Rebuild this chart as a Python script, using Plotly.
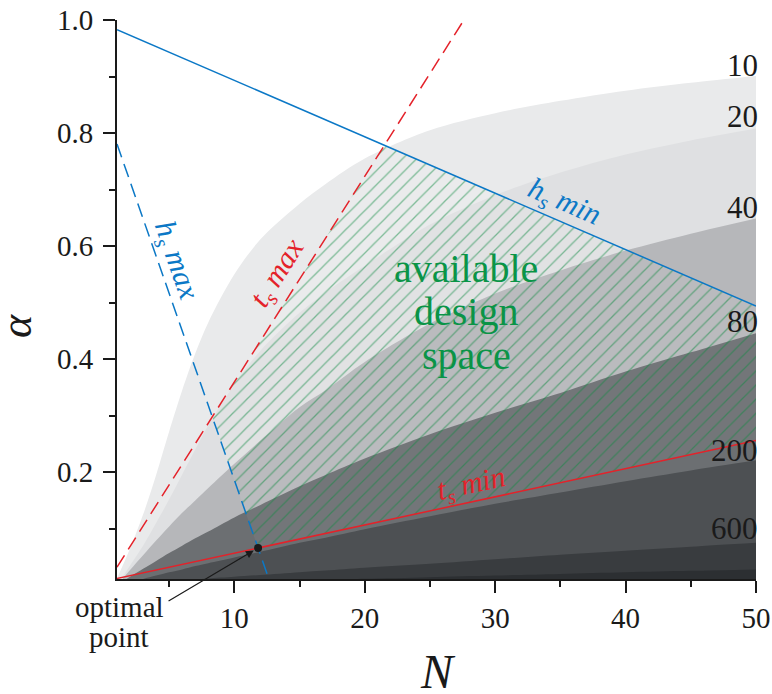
import plotly.graph_objects as go

# ---------------- data ----------------
N_grid = [1, 2, 3, 4, 5, 6, 7, 8, 10, 12, 15, 17, 20, 25, 30, 35, 40, 45, 50]
curve_10 = [0.012, 0.065, 0.125, 0.195, 0.272, 0.345, 0.41, 0.465, 0.55, 0.612, 0.675, 0.71, 0.755, 0.805, 0.835, 0.857, 0.875, 0.889, 0.901]
curve_20 = [0.0, 0.035, 0.07, 0.11, 0.152, 0.196, 0.24, 0.283, 0.355, 0.415, 0.482, 0.518, 0.565, 0.638, 0.69, 0.73, 0.762, 0.787, 0.808]
curve_40 = [0.0, 0.027, 0.053, 0.079, 0.104, 0.128, 0.15, 0.172, 0.215, 0.256, 0.315, 0.345, 0.395, 0.463, 0.516, 0.557, 0.592, 0.622, 0.649]
curve_80 = [0.0, 0.015, 0.029, 0.043, 0.057, 0.070, 0.083, 0.095, 0.120, 0.142, 0.175, 0.195, 0.224, 0.267, 0.305, 0.340, 0.378, 0.412, 0.446]
curve_200 = [0.0, 0.006, 0.011, 0.017, 0.023, 0.028, 0.034, 0.039, 0.049, 0.059, 0.075, 0.084, 0.099, 0.122, 0.144, 0.164, 0.184, 0.203, 0.221]
curve_600 = [0.0, 0.002, 0.003, 0.005, 0.007, 0.008, 0.010, 0.012, 0.015, 0.018, 0.023, 0.026, 0.031, 0.038, 0.046, 0.054, 0.061, 0.068, 0.075]
curve_2000 = [0.0, 0.0006, 0.0012, 0.0018, 0.0024, 0.003, 0.0036, 0.0042, 0.0054, 0.0066, 0.0084, 0.0096, 0.0113, 0.0143, 0.0172, 0.020, 0.023, 0.0255, 0.028]

curve_labels = ["10", "20", "40", "80", "200", "600"]
curve_label_y = [0.92, 0.830, 0.669, 0.466, 0.238, 0.100]
band_colors = ["#e9eaeb", "#dfe0e2", "#b6b7ba", "#6c6f72", "#4d5053", "#393c3f", "#2c2f32"]

# constraint lines (end points)
hs_min_N = [1, 50]
hs_min_a = [0.983, 0.494]
hs_max_N = [1, 12.65]
hs_max_a = [0.7805, 0.0108]
ts_max_N = [1, 27.6]
ts_max_a = [0.032, 1.0]
ts_min_N = [1, 50]
ts_min_a = [0.012, 0.256]

x_tick_vals = [10, 20, 30, 40, 50]
y_tick_vals = [0.2, 0.4, 0.6, 0.8, 1.0]
y_tick_text = ["0.2", "0.4", "0.6", "0.8", "1.0"]

FONT = "Liberation Serif"
BLUE = "#0b78c6"
RED = "#e4222a"
GREEN_TXT = "#0a9447"
GREEN_HATCH = "#0f8a42"


def line_eq(Ns, As):
    m = (As[1] - As[0]) / (Ns[1] - Ns[0])
    return m, As[0] - m * Ns[0]


def intersect(l1, l2):
    m1, b1 = line_eq(*l1)
    m2, b2 = line_eq(*l2)
    n = (b2 - b1) / (m1 - m2)
    return n, m1 * n + b1


L_hmin = (hs_min_N, hs_min_a)
L_hmax = (hs_max_N, hs_max_a)
L_tmax = (ts_max_N, ts_max_a)
L_tmin = (ts_min_N, ts_min_a)

p_top = intersect(L_tmax, L_hmin)
p_left = intersect(L_tmax, L_hmax)
p_opt = intersect(L_hmax, L_tmin)
m_hmin, b_hmin = line_eq(*L_hmin)
m_tmin, b_tmin = line_eq(*L_tmin)
p_r_top = (50, m_hmin * 50 + b_hmin)
p_r_bot = (50, m_tmin * 50 + b_tmin)

fig = go.Figure()

curves = [curve_10, curve_20, curve_40, curve_80, curve_200, curve_600, curve_2000]
for c, col in zip(curves, band_colors):
    fig.add_trace(go.Scatter(x=N_grid, y=c, mode="lines", fill="tozeroy",
                             fillcolor=col, line=dict(width=0, shape="spline", smoothing=0.9),
                             hoverinfo="skip", showlegend=False))

# hatched design space
poly = [p_top, p_r_top, p_r_bot, p_opt, p_left, p_top]
fig.add_trace(go.Scatter(x=[p[0] for p in poly], y=[p[1] for p in poly], mode="lines",
                         fill="toself", fillcolor="rgba(255,255,255,0.05)",
                         fillpattern=dict(shape="/", fgcolor=GREEN_HATCH,
                                          bgcolor="rgba(255,255,255,0.05)",
                                          size=10, solidity=0.13),
                         line=dict(width=0), hoverinfo="skip", showlegend=False))

fig.add_trace(go.Scatter(x=hs_min_N, y=hs_min_a, mode="lines",
                         line=dict(color=BLUE, width=1.5), showlegend=False))
fig.add_trace(go.Scatter(x=hs_max_N, y=hs_max_a, mode="lines",
                         line=dict(color=BLUE, width=1.5, dash="14px,7px"), showlegend=False))
fig.add_trace(go.Scatter(x=ts_max_N, y=ts_max_a, mode="lines",
                         line=dict(color=RED, width=1.5, dash="14px,7px"), showlegend=False))
fig.add_trace(go.Scatter(x=ts_min_N, y=ts_min_a, mode="lines",
                         line=dict(color=RED, width=1.5), showlegend=False))
fig.add_trace(go.Scatter(x=[p_opt[0]], y=[p_opt[1]], mode="markers",
                         marker=dict(color="#1a1a1a", size=8), showlegend=False))

ann = []
for t, y in zip(curve_labels, curve_label_y):
    ann.append(dict(x=50, y=y, xref="x", yref="y", text=t, showarrow=False,
                    xanchor="right", yanchor="middle", xshift=4,
                    font=dict(family=FONT, size=31, color="#1a1a1a")))

for t, y in zip(["available", "design", "space"], [0.561, 0.484, 0.406]):
    ann.append(dict(x=27.8, y=y, xref="x", yref="y", text=t, showarrow=False,
                    xanchor="center", yanchor="middle",
                    font=dict(family=FONT, size=40, color=GREEN_TXT)))

lab_font = dict(family=FONT, size=30)
ann.append(dict(x=5.5, y=0.574, xref="x", yref="y", text="<i>h<sub>s</sub> max</i>",
                showarrow=False, textangle=70.7, font=dict(lab_font, color=BLUE)))
ann.append(dict(x=13.4, y=0.552, xref="x", yref="y", text="<i>t<sub>s</sub> max</i>",
                showarrow=False, textangle=-57.6, font=dict(lab_font, color=RED)))
ann.append(dict(x=35.3, y=0.676, xref="x", yref="y", text="<i>h<sub>s</sub> min</i>",
                showarrow=False, textangle=23.4, font=dict(lab_font, color=BLUE)))
ann.append(dict(x=28.2, y=0.177, xref="x", yref="y", text="<i>t<sub>s</sub> min</i>",
                showarrow=False, textangle=-12.2, font=dict(lab_font, color=RED)))

# optimal point
ann.append(dict(x=p_opt[0], y=p_opt[1], xref="x", yref="y", text="", showarrow=True,
                ax=-91, ay=54, arrowhead=2, arrowsize=1.3, arrowwidth=1.2,
                arrowcolor="#1a1a1a", standoff=5))

L, R, T, B = 117, 16, 20, 115
W, H = 772, 694
pw, ph = W - L - R, H - T - B


def px_ann(x, y, text, size, angle=0):
    return dict(x=(x - L) / pw, y=1 - (y - T) / ph, xref="paper", yref="paper",
                text=text, showarrow=False, xanchor="center", yanchor="middle",
                textangle=angle, font=dict(family=FONT, size=size, color="#1a1a1a"))


ann.append(px_ann(119, 607, "optimal", 29))
ann.append(px_ann(119, 637, "point", 29))
ann.append(px_ann(438, 671, "<i>N</i>", 48))
ann.append(px_ann(16, 326, "<i>α</i>", 44, -90))

fig.update_layout(
    width=W, height=H,
    margin=dict(l=L, r=R, t=T, b=B, autoexpand=False),
    paper_bgcolor="white", plot_bgcolor="white",
    font=dict(family=FONT, size=29, color="#1a1a1a"),
    annotations=ann,
    showlegend=False,
)
tick_font = dict(family=FONT, size=29, color="#1a1a1a")
axis_common = dict(showgrid=False, zeroline=False, showline=True, automargin=False,
                   linecolor="#1a1a1a", linewidth=2, ticks="outside", ticklen=12,
                   tickwidth=1.5, tickcolor="#1a1a1a", tickmode="array")
fig.update_xaxes(range=[1, 50], tickvals=x_tick_vals, ticktext=[str(v) for v in x_tick_vals],
                 tickfont=tick_font,
                 minor=dict(tickmode="linear", tick0=0, dtick=5, ticks="outside",
                            ticklen=6, tickwidth=1.5, tickcolor="#1a1a1a", showgrid=False),
                 **axis_common)
fig.update_yaxes(range=[0.011, 1.0], tickvals=y_tick_vals, ticktext=y_tick_text,
                 tickfont=tick_font, ticklabelstandoff=4,
                 minor=dict(tickmode="linear", tick0=0, dtick=0.1, ticks="outside",
                            ticklen=6, tickwidth=1.5, tickcolor="#1a1a1a", showgrid=False),
                 **axis_common)

fig.write_html("out.html", config={"displayModeBar": False},
               post_script="document.body.style.margin='0px';")
